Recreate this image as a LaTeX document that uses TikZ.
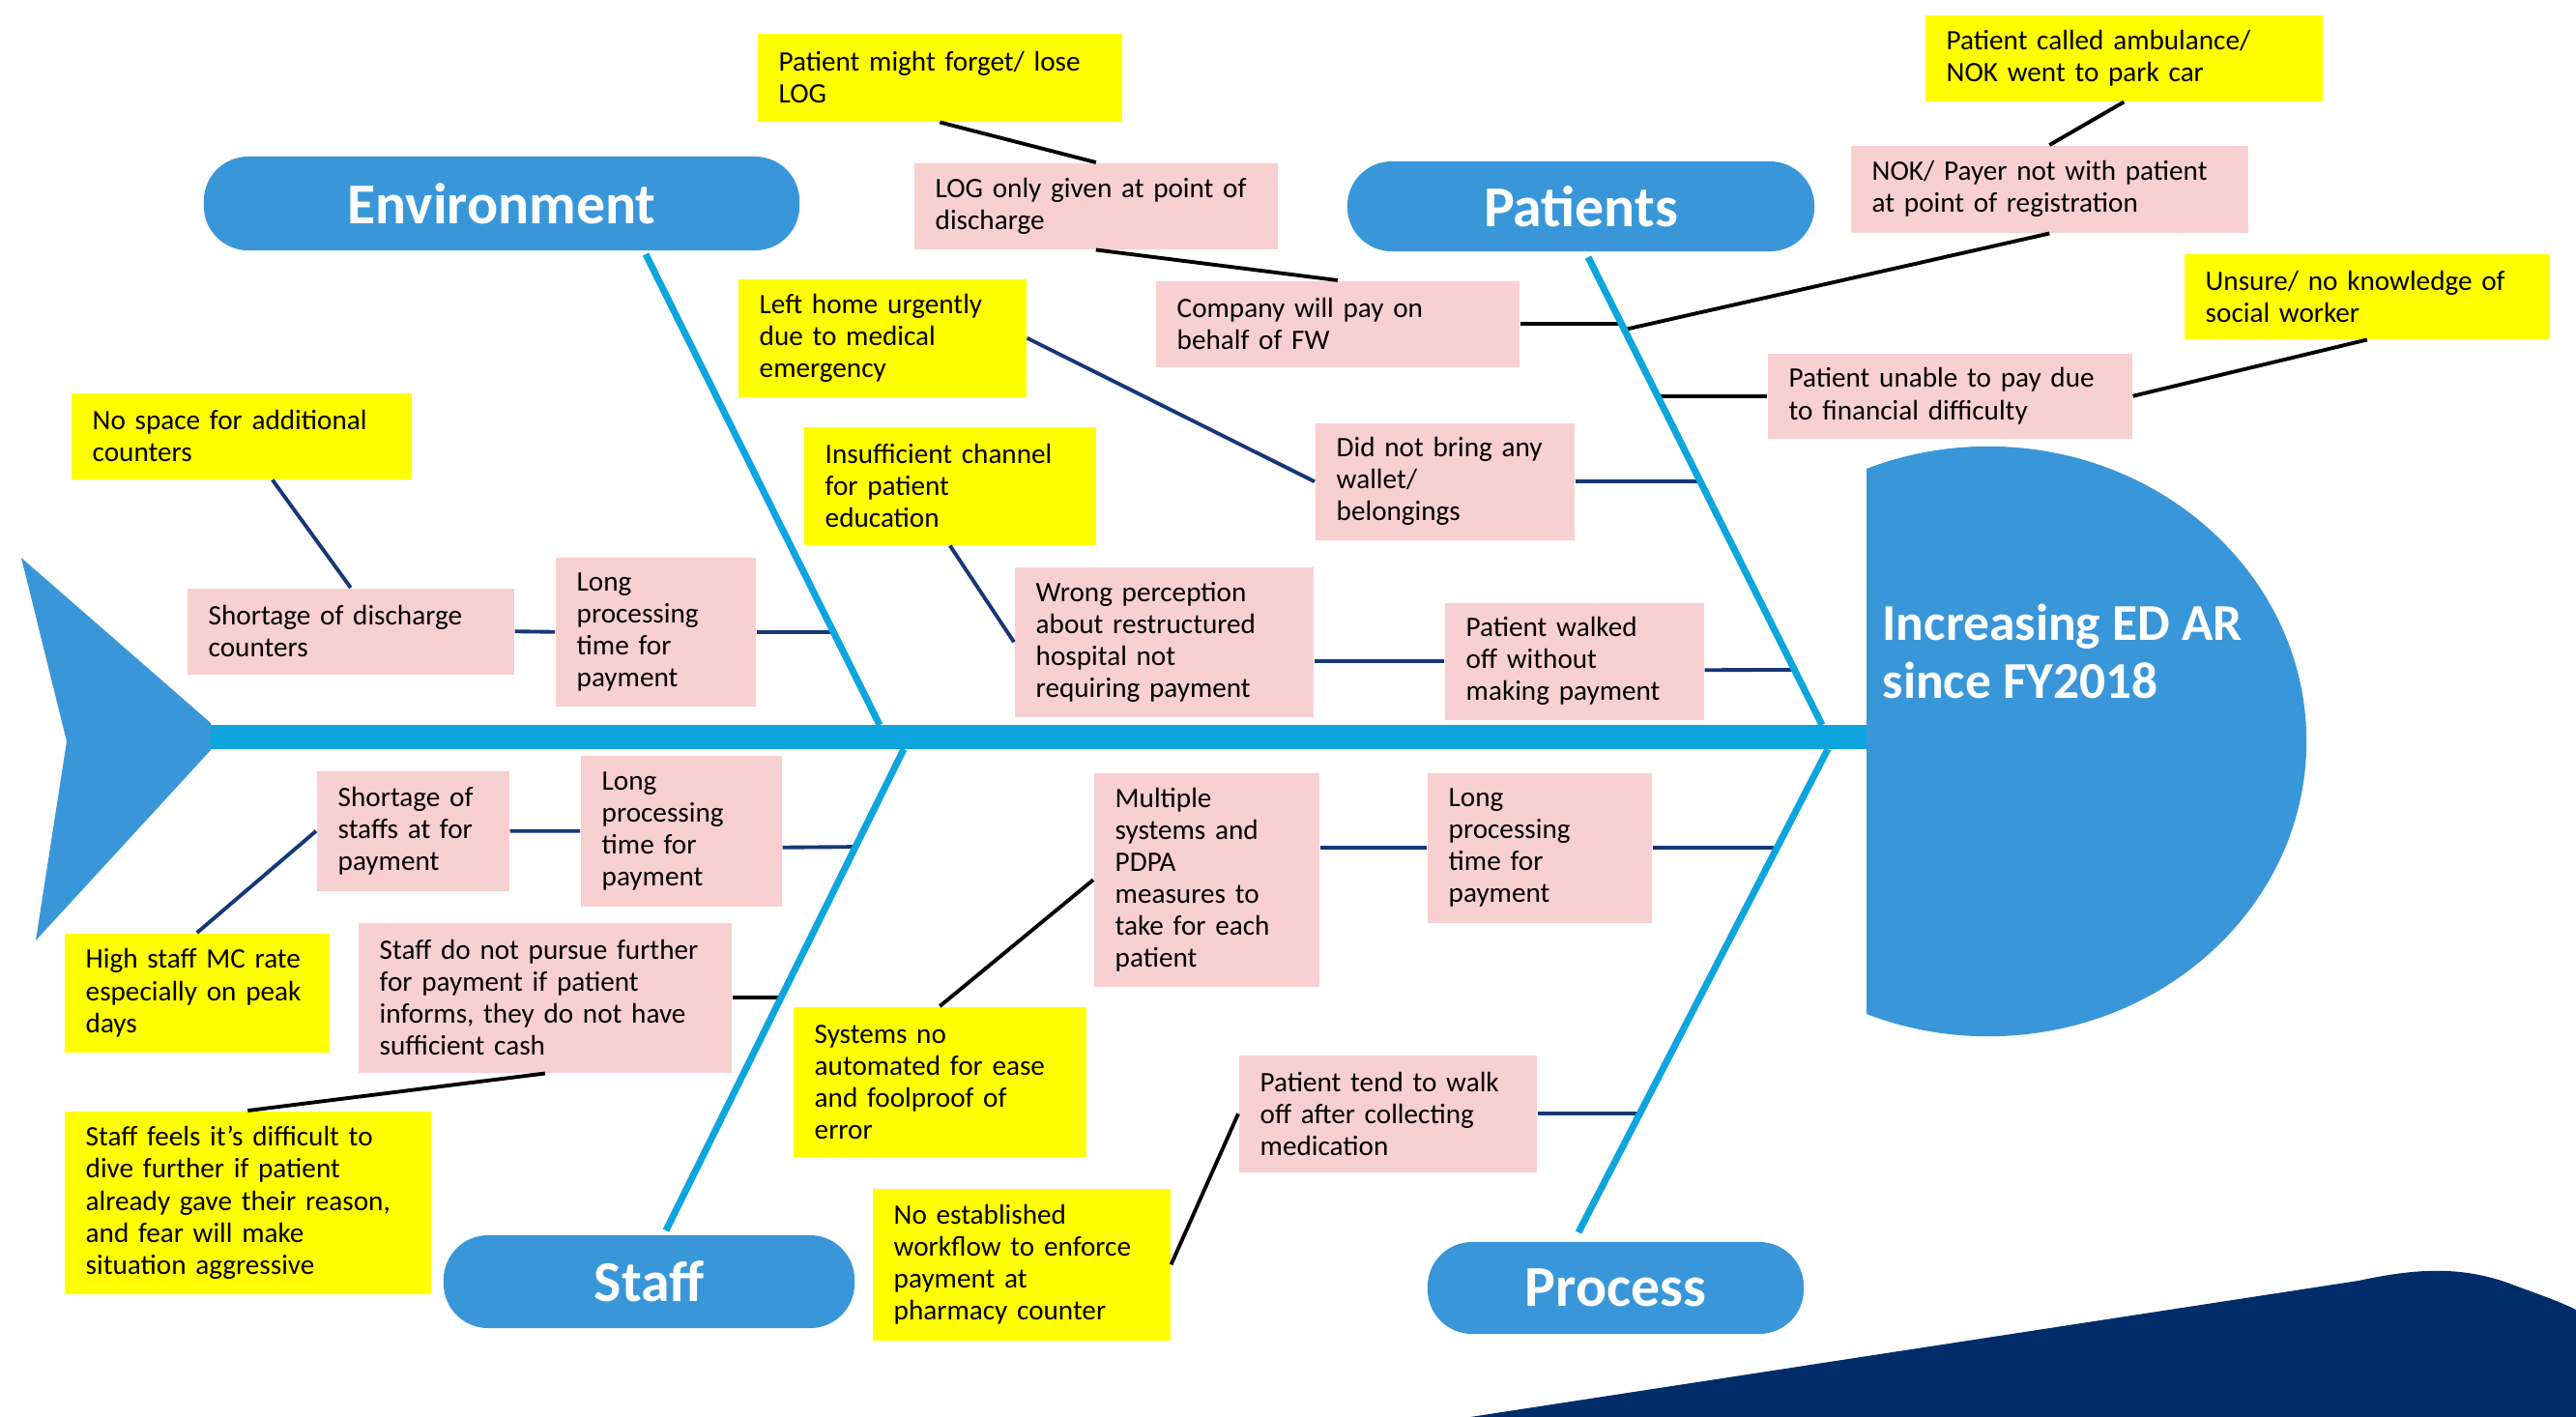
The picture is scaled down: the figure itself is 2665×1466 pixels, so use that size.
\documentclass[tikz,border=0pt]{standalone}
\usepackage{fontspec}
\setmainfont{Carlito}
\usetikzlibrary{positioning,calc}

\definecolor{pillblue}{RGB}{57,151,217}
\definecolor{spineblue}{RGB}{14,165,222}
\definecolor{boxpink}{RGB}{248,208,210}
\definecolor{boxyellow}{RGB}{255,255,0}
\definecolor{lnnavy}{RGB}{22,55,120}
\definecolor{darknavy}{RGB}{0,45,106}

\begin{document}
\begin{tikzpicture}[x=0.01cm,y=-0.01cm,
    cause/.style={anchor=north west,inner xsep=0.22cm,inner ysep=0pt,align=left,
      font=\fontsize{8.3}{9.4}\selectfont},
    pinkbox/.style={cause,fill=boxpink},
    yellowbox/.style={cause,fill=boxyellow},
    pill/.style={fill=pillblue,rounded corners=0.46cm,text=white,inner sep=0pt,
      font=\fontsize{17}{20}\selectfont\bfseries},
    bone/.style={draw=spineblue,line width=2pt},
    blacklink/.style={draw=black,line width=1.1pt},
    navylink/.style={draw=lnnavy,line width=1.1pt}]
    \useasboundingbox (0,0) rectangle (2665,1466);

    % corner shape, tail, spine and head
    \fill[darknavy] (1521,1466) -- (2440,1325) .. controls (2500,1312) and (2545,1310) .. (2594,1327)
        .. controls (2620,1337) and (2645,1345) .. (2665,1355) -- (2665,1466) -- cycle;
    \fill[pillblue] (22,577) -- (218,748) -- (218,776) -- (37,973) -- (69,767) -- cycle;
    \coordinate (tailtip) at (218,762.5);
    \coordinate (headleft) at (1931,762.5);
    \draw[spineblue,line width=0.25cm] (tailtip) -- (headleft);
    \begin{scope}
        \clip (1931,400) rectangle (2450,1120);
        \fill[pillblue] (2057,767) ellipse [x radius=3.29cm,y radius=3.05cm];
    \end{scope}
    \node[anchor=base west,align=left,inner sep=0pt,text=white,font=\fontsize{15.2}{16.8}\selectfont\bfseries]
        (effect) at (1947,722) {Increasing ED AR\\since FY2018};

    % categories
    \node[pill,minimum width=6.16cm,minimum height=0.97cm] (env) at (519,210.5) {Environment};
    \node[pill,minimum width=4.83cm,minimum height=0.93cm] (pat) at (1635.5,213.5) {Patients};
    \node[pill,minimum width=4.25cm,minimum height=0.96cm] (staff) at (671.5,1326) {Staff};
    \node[pill,minimum width=3.89cm,minimum height=0.95cm] (proc) at (1671.5,1332.5) {Process};

    % bones
    \coordinate (envA) at (668,263);   \coordinate (envB) at (910,750);
    \coordinate (patA) at (1643,266);  \coordinate (patB) at (1885,750);
    \coordinate (staA) at (935,775);   \coordinate (staB) at (689,1273);
    \coordinate (proA) at (1891,775);  \coordinate (proB) at (1633,1275);
    \coordinate (eb1) at ($(envA)!0.799!(envB)$);
    \coordinate (pb1) at ($(patA)!0.145!(patB)$);
    \coordinate (pb2) at ($(patA)!0.155!(patB)$);
    \coordinate (pb3) at ($(patA)!0.293!(patB)$);
    \coordinate (pb4) at ($(patA)!0.475!(patB)$);
    \coordinate (pb5) at ($(patA)!0.882!(patB)$);
    \coordinate (sb1) at ($(staA)!0.203!(staB)$);
    \coordinate (sb2) at ($(staA)!0.512!(staB)$);
    \coordinate (rb1) at ($(proA)!0.202!(proB)$);
    \coordinate (rb2) at ($(proA)!0.746!(proB)$);

    % yellow boxes
    \node[yellowbox,text width=3.33cm,minimum height=0.91cm] (ylog) at (783,34) {Patient might forget/ lose\\LOG};
    \node[yellowbox,text width=3.67cm,minimum height=0.89cm] (yamb) at (1991,15) {Patient called ambulance/\\NOK went to park car};
    \node[yellowbox,text width=3.34cm,minimum height=0.88cm] (yunsure) at (2259,262) {Unsure/ no knowledge of\\social worker};
    \node[yellowbox,text width=2.54cm,minimum height=1.22cm] (yleft) at (763,288) {Left home urgently\\due to medical\\emergency};
    \node[yellowbox,text width=2.58cm,minimum height=1.22cm] (yinsuff) at (831,441) {Insufficient channel\\for patient\\education};
    \node[yellowbox,text width=3.08cm,minimum height=0.89cm] (ynospace) at (73,406) {No space for additional\\counters};
    \node[yellowbox,text width=2.30cm,minimum height=1.23cm] (yhighmc) at (66,965) {High staff MC rate\\especially on peak\\days};
    \node[yellowbox,text width=3.35cm,minimum height=1.89cm] (yfeels) at (66,1149) {Staff feels it’s difficult to\\dive further if patient\\already gave their reason,\\and fear will make\\situation aggressive};
    \node[yellowbox,text width=2.59cm,minimum height=1.55cm] (ysys) at (820,1041) {Systems no\\automated for ease\\and foolproof of\\error};
    \node[yellowbox,text width=2.64cm,minimum height=1.57cm] (yflow) at (902,1229) {No established\\workflow to enforce\\payment at\\pharmacy counter};

    % pink boxes
    \node[pinkbox,text width=3.32cm,minimum height=0.89cm] (plog) at (945,168) {LOG only given at point of\\discharge};
    \node[pinkbox,text width=3.32cm,minimum height=0.89cm] (pcomp) at (1195,290) {Company will pay on\\behalf of FW};
    \node[pinkbox,text width=3.67cm,minimum height=0.90cm] (pnok) at (1914,150) {NOK/ Payer not with patient\\at point of registration};
    \node[pinkbox,text width=3.33cm,minimum height=0.88cm] (punable) at (1828,365) {Patient unable to pay due\\to financial difficulty};
    \node[pinkbox,text width=2.24cm,minimum height=1.21cm] (pwallet) at (1360,437) {Did not bring any\\wallet/\\belongings};
    \node[pinkbox,text width=2.65cm,minimum height=1.55cm] (pwrong) at (1049,586) {Wrong perception\\about restructured\\hospital not\\requiring payment};
    \node[pinkbox,text width=2.24cm,minimum height=1.21cm] (pwalk) at (1494,623) {Patient walked\\off without\\making payment};
    \node[pinkbox,text width=2.94cm,minimum height=0.89cm] (pshort) at (193,608) {Shortage of discharge\\counters};
    \node[pinkbox,text width=1.63cm,minimum height=1.54cm] (plongE) at (574,576) {Long\\processing\\time for\\payment};
    \node[pinkbox,text width=1.55cm,minimum height=1.24cm] (pstaffs) at (327,797) {Shortage of\\staffs at for\\payment};
    \node[pinkbox,text width=1.64cm,minimum height=1.56cm] (plongS) at (600,781) {Long\\processing\\time for\\payment};
    \node[pinkbox,text width=3.42cm,minimum height=1.55cm] (pstaffdo) at (370,954) {Staff do not pursue further\\for payment if patient\\informs, they do not have\\sufficient cash};
    \node[pinkbox,text width=1.89cm,minimum height=2.21cm] (pmulti) at (1131,799) {Multiple\\systems and\\PDPA\\measures to\\take for each\\patient};
    \node[pinkbox,text width=1.88cm,minimum height=1.55cm] (plongP) at (1476,799) {Long\\processing\\time for\\payment};
    \node[pinkbox,text width=2.64cm,minimum height=1.21cm] (ptend) at (1281,1091) {Patient tend to walk\\off after collecting\\medication};

    % links
    \draw[blacklink] (ylog.south) -- (plog.north);
    \draw[blacklink] (plog.south) -- (pcomp.north);
    \draw[blacklink] (pcomp.east) -- (pcomp.east -| pb1);
    \draw[blacklink] (yamb.south) -- (pnok.north);
    \draw[blacklink] (pnok.south) -- (pb2);
    \draw[blacklink] (yunsure.south) -- (punable.east);
    \draw[blacklink] (punable.west) -- (punable.west -| pb3);
    \draw[navylink] (yleft.east) -- (pwallet.west);
    \draw[navylink] (pwallet.east) -- (pwallet.east -| pb4);
    \draw[navylink] (yinsuff.south) -- (pwrong.west);
    \draw[navylink] (pwrong.east |- pwalk.west) -- (pwalk.west);
    \draw[navylink] ($(pwalk.east)+(0,9)$) -- (pb5);
    \draw[navylink] ($(ynospace.south)+(32,0)$) -- (pshort.north);
    \draw[navylink] (pshort.east) -- (plongE.west);
    \draw[navylink] (plongE.east) -- (plongE.east -| eb1);
    \draw[navylink] (yhighmc.north) -- (pstaffs.west);
    \draw[navylink] (pstaffs.east) -- (plongS.west);
    \draw[navylink] ($(plongS.east)+(0,17)$) -- (sb1);
    \draw[blacklink] (pstaffdo.east) -- (pstaffdo.east -| sb2);
    \draw[blacklink] (pstaffdo.south) -- (yfeels.north);
    \draw[navylink] (pmulti.east |- plongP.west) -- (plongP.west);
    \draw[navylink] (plongP.east) -- (plongP.east -| rb1);
    \draw[blacklink] (ysys.north) -- (pmulti.west);
    \draw[navylink] (ptend.east) -- (ptend.east -| rb2);
    \draw[blacklink] (yflow.east) -- (ptend.west);

    \draw[bone] (envA) -- (envB);
    \draw[bone] (patA) -- (patB);
    \draw[bone] (staA) -- (staB);
    \draw[bone] (proA) -- (proB);
\end{tikzpicture}
\end{document}
